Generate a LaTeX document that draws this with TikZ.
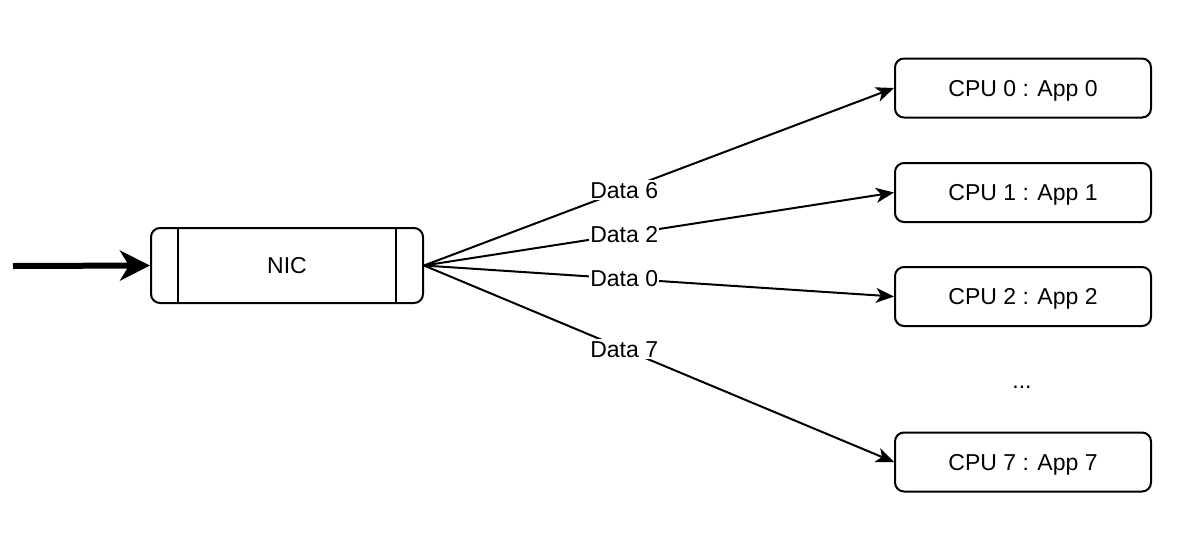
\documentclass[tikz,border=0pt]{standalone}
\usepackage{fontspec}
\setmainfont{Liberation Sans}
\usetikzlibrary{arrows.meta}
\begin{document}
\begin{tikzpicture}[x=1pt,y=-1pt,
  txt/.style={font=\fontsize{23}{27}\selectfont, text height=16.5pt, text depth=0pt},
  box/.style={txt, draw, line width=2pt, rounded corners=9pt, minimum width=256pt, minimum height=59pt, inner sep=0pt},
  nicbox/.style={txt, draw, line width=2pt, rounded corners=9pt, minimum width=272pt, minimum height=75pt, inner sep=0pt},
  conn/.style={line width=2pt, -{Stealth[length=18pt,width=15pt,inset=5pt]}},
  thickarrow/.style={line width=6pt, -{Stealth[length=30pt,width=30pt,inset=9pt]}},
  lbl/.style={txt, fill=white, inner xsep=1pt, inner ysep=2pt},
  dots/.style={txt, inner sep=0pt}
]
\useasboundingbox (0,0) rectangle (1180,544);
\node[nicbox] (nic) at (287,265.5) {NIC};
\draw[line width=2pt] ([xshift=28pt]nic.north west) -- ([xshift=28pt]nic.south west);
\draw[line width=2pt] ([xshift=-28pt]nic.north east) -- ([xshift=-28pt]nic.south east);
\node[box] (c0) at (1023,88) {CPU 0 : App 0};
\node[box] (c1) at (1023,192.5) {CPU 1 : App 1};
\node[box] (c2) at (1023,296.5) {CPU 2 : App 2};
\node[box] (c7) at (1023,462) {CPU 7 : App 7};
\node[dots] (dt) at (1022,380) {...};
\coordinate (in) at (13,266);
\draw[thickarrow] (in) -- (nic.west);
\draw[conn] (nic.east) -- node[lbl,pos=0.426] {Data 6} (c0.west);
\draw[conn] (nic.east) -- node[lbl,pos=0.426] {Data 2} (c1.west);
\draw[conn] (nic.east) -- node[lbl,pos=0.426] {Data 0} (c2.west);
\draw[conn] (nic.east) -- node[lbl,pos=0.426] {Data 7} (c7.west);
\end{tikzpicture}
\end{document}
